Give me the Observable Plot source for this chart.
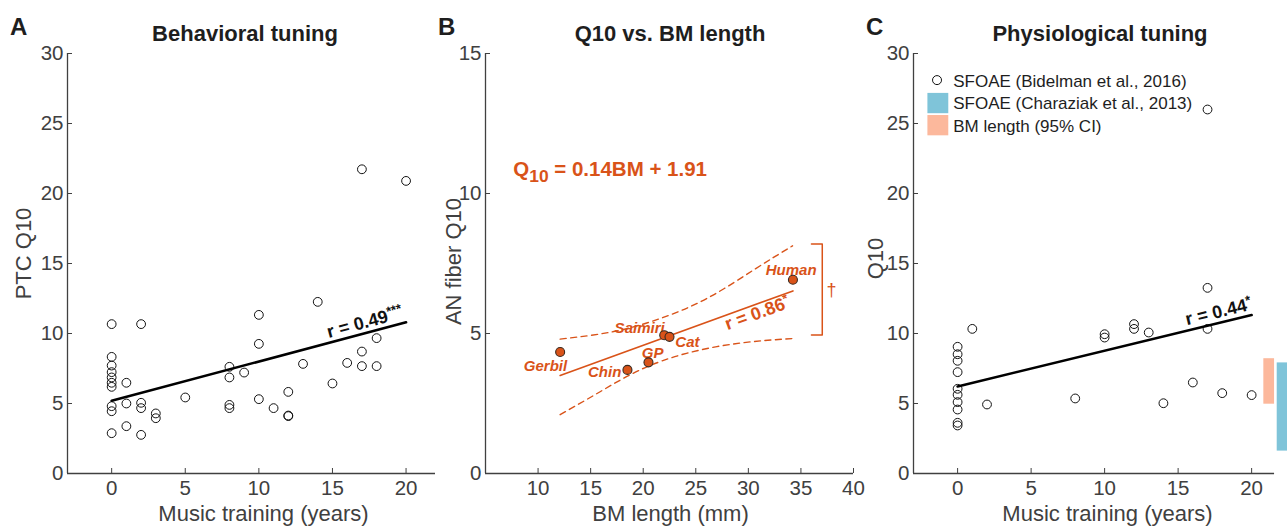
<!DOCTYPE html>
<html><head><meta charset="utf-8">
<script src="https://cdn.jsdelivr.net/npm/d3@7"></script>
<script src="https://cdn.jsdelivr.net/npm/@observablehq/plot@0.6"></script>
<style>
body{margin:0;background:#fff;}
#wrap{position:relative;width:1287px;height:529px;overflow:hidden;background:#fff;font-family:"Liberation Sans",Arial,sans-serif;}
#wrap svg{position:absolute;left:0;top:0;}
.lbl{position:absolute;white-space:nowrap;color:#1e1e1e;font-weight:bold;line-height:1;}
.ttl{font-size:22px;transform:translateX(-50%);top:23px;}
.let{font-size:24px;top:15px;}
</style></head><body><div id="wrap">
<div class="lbl let" style="left:10px">A</div>
<div class="lbl let" style="left:438px">B</div>
<div class="lbl let" style="left:866px">C</div>
<div class="lbl ttl" style="left:245px">Behavioral tuning</div>
<div class="lbl ttl" style="left:670px">Q10 vs. BM length</div>
<div class="lbl ttl" style="left:1100px">Physiological tuning</div>
</div>
<script>
// ---------- Panel A: behavioral tuning ----------
const yearsA = [0,0,0,0,0,0,0,0,0,0, 1,1,1, 2,2,2,2, 3,3, 5, 8,8,8,8, 9, 10,10,10, 11, 12,12,12, 13, 14, 15, 16, 17,17,17, 18,18, 20];
const ptcQ10 = [10.67,8.33,7.71,7.24,6.86,6.48,6.19,4.81,4.45,2.88, 6.48,5.0,3.38, 10.67,5.05,4.67,2.76, 4.29,3.95, 5.43, 7.62,6.86,4.90,4.67, 7.21, 11.33,9.26,5.31, 4.67, 5.83,4.14,4.10, 7.83, 12.26, 6.43, 7.90, 21.73,8.71,7.67, 9.67,7.67, 20.9];
const fitAYears = [0, 20];
const fitAQ10 = [5.2, 10.8];

// ---------- Panel B: Q10 vs BM length ----------
const species = ["Gerbil","Chin","GP","Saimiri","Cat","Human"];
const bmLength = [12.1, 18.5, 20.5, 22.0, 22.5, 34.24];
const anQ10 = [4.34, 3.70, 3.97, 4.94, 4.88, 6.92];
const fitBLength = [12.1, 34.24];
const fitBQ10 = [3.5, 6.52];
const ciUpperLength = [12.1, 17.2, 21.65, 26.1, 30.5, 34.2];
const ciUpperQ10 = [4.8, 5.07, 5.54, 6.26, 7.27, 8.13];
const ciLowerLength = [12.1, 15.9, 19.7, 24.2, 29.25, 34.2];
const ciLowerQ10 = [2.1, 2.92, 3.7, 4.3, 4.66, 4.82];

// ---------- Panel C: physiological tuning ----------
const yearsC = [0,0,0,0,0,0,0,0,0,0, 1, 2, 8, 10,10, 12,12, 13, 14, 16, 17,17,17, 18, 20];
const sfoaeQ10 = [9.05,8.52,8.05,7.24,6.05,5.62,5.10,4.57,3.62,3.43, 10.33, 4.93, 5.36, 9.95,9.71, 10.67,10.33, 10.07, 5.02, 6.5, 26.0,13.26,10.33, 5.74, 5.6];
const fitCYears = [0, 20];
const fitCQ10 = [6.22, 11.32];
const charaziakCI = [1.6, 7.9];   // SFOAE (Charaziak et al., 2013)
const bmCI = [4.95, 8.2];         // BM length (95% CI)

const legendLabels = ["SFOAE (Bidelman et al., 2016)", "SFOAE (Charaziak et al., 2013)", "BM length (95% CI)"];

// ---------- helpers ----------
const W = 1287, H = 529, TOP = 53, BOTTOM = 473;
const AX = "#404040", ORANGE = "#D95319", BLUE = "#7FC4D9", SALMON = "#FCB89C";
const zip = (xs, ys, extra = {}) => xs.map((x, i) => ({x, y: ys[i], ...Object.fromEntries(Object.entries(extra).map(([k, v]) => [k, v[i]]))}));
const baseStyle = {background: "transparent", overflow: "visible", fontFamily: "Liberation Sans, Arial, sans-serif", fontSize: "20px", color: AX};
function frame(left, right) {
  return {width: W, height: H, marginTop: TOP, marginBottom: H - BOTTOM, marginLeft: left, marginRight: W - right, style: baseStyle};
}
function axes(xt, yt) {
  return [
    Plot.axisX({ticks: xt, tickSize: -5, tickPadding: 12, label: null, fontSize: 20.5, tickFormat: d => String(d)}),
    Plot.axisY({ticks: yt, tickSize: -5, tickPadding: 9, label: null, fontSize: 20.5, tickFormat: d => String(d)})
  ];
}
function axisLabel(text, anchor, dx, dy, rotate = 0) {
  return Plot.text([text], {frameAnchor: anchor, text: d => d, dx, dy, rotate, textAnchor: "middle", lineAnchor: "middle", fontSize: 22, fill: AX});
}
function addScript(svg, base, extra, dy, size) {
  d3.select(svg).selectAll("text").filter(function () { return this.textContent === base; })
    .each(function () { d3.select(this).append("tspan").attr("dy", dy).attr("font-size", size).text(extra); });
}

const wrap = document.getElementById("wrap");

// ---------- Plot A ----------
const plotA = Plot.plot({
  ...frame(67, 435),
  x: {domain: [-3, 22]},
  y: {domain: [0, 30]},
  marks: [
    Plot.ruleY([0], {stroke: AX, strokeWidth: 1.3}),
    Plot.ruleX([-3], {stroke: AX, strokeWidth: 1.3}),
    ...axes([0, 5, 10, 15, 20], [0, 5, 10, 15, 20, 25, 30]),
    Plot.dot(zip(yearsA, ptcQ10), {x: "x", y: "y", r: 4.4, stroke: "#111", strokeWidth: 1, fill: "none"}),
    Plot.line(zip(fitAYears, fitAQ10), {x: "x", y: "y", stroke: "#000", strokeWidth: 2.6}),
    Plot.text([{x: 17.2, y: 10.8, t: "r = 0.49"}], {x: "x", y: "y", text: "t", rotate: -15, fontSize: 18, fontWeight: "bold", fill: "#111"}),
    axisLabel("Music training (years)", "bottom", 12, 40),
    axisLabel("PTC Q10", "left", -44, -10, -90)
  ]
});
addScript(plotA, "r = 0.49", "***", "-0.45em", "0.72em");
wrap.appendChild(plotA);

// ---------- Plot B ----------
const labelPos = {Gerbil: [10.71, 3.82, "middle"], Chin: [14.75, 3.62, "start"], GP: [20.9, 4.3, "middle"], Saimiri: [19.66, 5.19, "middle"], Cat: [24.2, 4.69, "middle"], Human: [34.07, 7.25, "middle"]};
const speciesData = zip(bmLength, anQ10, {name: species});
const plotB = Plot.plot({
  ...frame(485, 853),
  x: {domain: [5, 40]},
  y: {domain: [0, 15]},
  marks: [
    Plot.ruleY([0], {stroke: AX, strokeWidth: 1.3}),
    Plot.ruleX([5], {stroke: AX, strokeWidth: 1.3}),
    ...axes([10, 15, 20, 25, 30, 35, 40], [0, 5, 10, 15]),
    Plot.line(zip(ciUpperLength, ciUpperQ10), {x: "x", y: "y", stroke: ORANGE, strokeWidth: 1.4, strokeDasharray: "6,4.5", curve: "natural"}),
    Plot.line(zip(ciLowerLength, ciLowerQ10), {x: "x", y: "y", stroke: ORANGE, strokeWidth: 1.4, strokeDasharray: "6,4.5", curve: "natural"}),
    Plot.line(zip(fitBLength, fitBQ10), {x: "x", y: "y", stroke: ORANGE, strokeWidth: 1.6}),
    Plot.text(speciesData, {x: d => labelPos[d.name][0], y: d => labelPos[d.name][1], text: "name", textAnchor: "start", fontSize: 15, fontWeight: "bold", fontStyle: "italic", fill: ORANGE, filter: d => labelPos[d.name][2] === "start"}),
    Plot.text(speciesData, {x: d => labelPos[d.name][0], y: d => labelPos[d.name][1], text: "name", fontSize: 15, fontWeight: "bold", fontStyle: "italic", fill: ORANGE, filter: d => labelPos[d.name][2] === "middle"}),
    Plot.dot(speciesData, {x: "x", y: "y", r: 4.5, fill: ORANGE, stroke: "#3a2a20", strokeWidth: 1.1}),
    Plot.line([{x: 36.0, y: bmCI[1]}, {x: 37.03, y: bmCI[1]}, {x: 37.03, y: bmCI[0]}, {x: 36.0, y: bmCI[0]}], {x: "x", y: "y", stroke: ORANGE, strokeWidth: 1.5}),
    Plot.text([{x: 37.9, y: 6.55, t: "†"}], {x: "x", y: "y", text: "t", fontSize: 18, fill: ORANGE}),
    Plot.text([{x: 30.85, y: 5.72, t: "r = 0.86"}], {x: "x", y: "y", text: "t", rotate: -20, fontSize: 18, fontWeight: "bold", fill: ORANGE}),
    Plot.text([{x: 7.64, y: 10.86, t: "Q10 = 0.14BM + 1.91"}], {x: "x", y: "y", text: "t", textAnchor: "start", fontSize: 20.5, fontWeight: "bold", fill: ORANGE}),
    axisLabel("BM length (mm)", "bottom", 1, 40),
    axisLabel("AN fiber Q10", "left", -32, -2, -90)
  ]
});
addScript(plotB, "r = 0.86", "*", "-0.45em", "0.72em");
d3.select(plotB).selectAll("text").filter(function () { return this.textContent === "Q10 = 0.14BM + 1.91"; })
  .each(function () {
    const t = d3.select(this);
    t.text("Q");
    t.append("tspan").attr("dy", "6px").attr("font-size", "0.85em").text("10");
    t.append("tspan").attr("dy", "-6px").text(" = 0.14BM + 1.91");
  });
wrap.appendChild(plotB);

// ---------- Plot C ----------
const plotC = Plot.plot({
  ...frame(913, 1287),
  x: {domain: [-3, 22.44]},
  y: {domain: [0, 30]},
  marks: [
    Plot.ruleY([0], {x1: -3, x2: 21.56, stroke: AX, strokeWidth: 1.3}),
    Plot.ruleX([-3], {stroke: AX, strokeWidth: 1.3}),
    ...axes([0, 5, 10, 15, 20], [0, 5, 10, 15, 20, 25, 30]),
    Plot.rect([bmCI], {x1: 20.83, x2: 21.56, y1: d => d[0], y2: d => d[1], fill: SALMON}),
    Plot.rect([charaziakCI], {x1: 21.74, x2: 22.6, y1: d => d[0], y2: d => d[1], fill: BLUE}),
    Plot.dot(zip(yearsC, sfoaeQ10), {x: "x", y: "y", r: 4.4, stroke: "#111", strokeWidth: 1, fill: "none"}),
    Plot.line(zip(fitCYears, fitCQ10), {x: "x", y: "y", stroke: "#000", strokeWidth: 2.6}),
    Plot.text([{x: 17.75, y: 11.55, t: "r = 0.44"}], {x: "x", y: "y", text: "t", rotate: -13.6, fontSize: 18, fontWeight: "bold", fill: "#111"}),
    // legend
    Plot.dot([legendLabels[0]], {x: -1.4, y: 28.1, r: 4.5, stroke: "#111", strokeWidth: 1, fill: "none"}),
    Plot.rect([legendLabels[1]], {x1: -2.02, x2: -0.6, y1: 25.7, y2: 27.15, fill: BLUE}),
    Plot.rect([legendLabels[2]], {x1: -2.02, x2: -0.6, y1: 24.12, y2: 25.57, fill: SALMON}),
    Plot.text(legendLabels, {x: -0.3, y: (d, i) => [28.0, 26.4, 24.8][i], text: d => d, textAnchor: "start", fontSize: 17, fill: "#1e1e1e"}),
    axisLabel("Music training (years)", "bottom", 7, 40),
    axisLabel("Q10", "left", -38, -5, -90)
  ]
});
addScript(plotC, "r = 0.44", "*", "-0.45em", "0.72em");
wrap.appendChild(plotC);
</script></body></html>
